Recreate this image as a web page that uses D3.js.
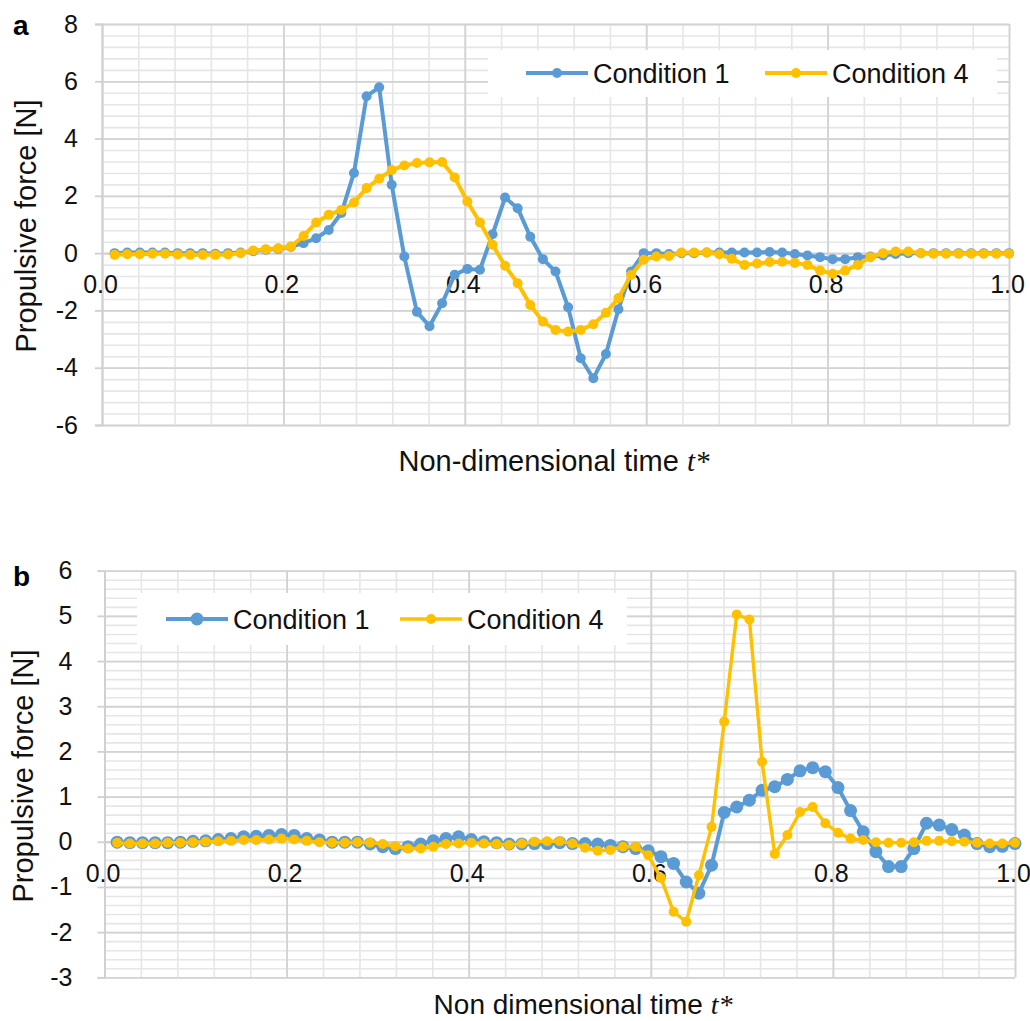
<!DOCTYPE html>
<html><head><meta charset="utf-8">
<script src="https://cdn.jsdelivr.net/npm/d3@7"></script>
<style>body{margin:0;background:#fff} svg{display:block}</style>
</head><body><svg id="c" width="1030" height="1021"></svg>
<script>
// Non-dimensional time samples (shared by both panels)
const T = [0.0139,0.0278,0.0417,0.0556,0.0694,0.0833,0.0972,0.1111,0.125,0.1389,
0.1528,0.1667,0.1806,0.1944,0.2083,0.2222,0.2361,0.25,0.2639,0.2778,
0.2917,0.3056,0.3194,0.3333,0.3472,0.3611,0.375,0.3889,0.4028,0.4167,
0.4306,0.4444,0.4583,0.4722,0.4861,0.5,0.5139,0.5278,0.5417,0.5556,
0.5694,0.5833,0.5972,0.6111,0.625,0.6389,0.6528,0.6667,0.6806,0.6944,
0.7083,0.7222,0.7361,0.75,0.7639,0.7778,0.7917,0.8056,0.8194,0.8333,
0.8472,0.8611,0.875,0.8889,0.9028,0.9167,0.9306,0.9444,0.9583,0.9722,
0.9861,1.0];

// Panel a
const aCond1 = [0.0,0.02,0.02,0.02,0.02,0.0,0.0,0.0,-0.02,0.0,
0.02,0.07,0.12,0.15,0.22,0.35,0.52,0.81,1.4,2.8,
5.48,5.79,2.39,-0.12,-2.05,-2.55,-1.75,-0.75,-0.55,-0.58,
0.66,1.94,1.57,0.57,-0.21,-0.64,-1.89,-3.67,-4.37,-3.52,
-1.96,-0.64,0.0,0.0,-0.03,0.0,0.0,0.02,0.02,0.02,
0.02,0.02,0.04,0.02,-0.03,-0.08,-0.14,-0.21,-0.21,-0.14,
-0.12,-0.08,-0.03,0.0,0.0,0.0,0.0,0.0,0.0,0.0,
0.0,0.0];
const aCond4 = [-0.06,-0.04,-0.04,-0.02,-0.02,-0.05,-0.06,-0.06,-0.06,-0.05,
0.0,0.09,0.14,0.17,0.23,0.6,1.07,1.34,1.51,1.77,
2.27,2.6,2.9,3.06,3.15,3.17,3.18,2.64,1.8,1.07,
0.29,-0.44,-1.05,-1.81,-2.39,-2.68,-2.74,-2.68,-2.48,-2.08,
-1.57,-0.76,-0.23,-0.12,-0.1,0.02,0.02,0.02,-0.04,-0.2,
-0.41,-0.36,-0.31,-0.3,-0.34,-0.41,-0.61,-0.72,-0.61,-0.41,
-0.14,0.0,0.06,0.06,0.0,-0.02,-0.02,-0.02,-0.02,-0.02,
-0.02,-0.02];

// Panel b
const bCond1 = [-0.01,-0.02,-0.02,-0.02,-0.02,-0.01,0.01,0.02,0.05,0.07,
0.11,0.12,0.14,0.16,0.14,0.07,0.04,-0.01,-0.01,-0.01,
-0.05,-0.11,-0.15,-0.11,-0.05,0.02,0.07,0.11,0.05,0.0,
-0.02,-0.05,-0.05,-0.04,-0.04,-0.02,-0.04,-0.04,-0.05,-0.08,
-0.11,-0.15,-0.2,-0.33,-0.48,-0.89,-1.14,-0.52,0.65,0.77,
0.92,1.14,1.22,1.38,1.57,1.64,1.55,1.2,0.69,0.22,
-0.22,-0.55,-0.55,-0.15,0.41,0.37,0.27,0.15,-0.04,-0.11,
-0.1,-0.04];
const bCond4 = [-0.02,-0.04,-0.04,-0.04,-0.02,-0.02,-0.01,0.0,0.01,0.02,
0.04,0.04,0.05,0.07,0.05,0.02,-0.01,-0.02,-0.02,-0.01,
-0.02,-0.05,-0.1,-0.15,-0.15,-0.11,-0.05,-0.04,-0.02,-0.04,
-0.05,-0.07,-0.04,0.0,0.01,0.01,-0.04,-0.13,-0.2,-0.18,
-0.11,-0.11,-0.3,-0.8,-1.55,-1.77,-0.74,0.33,2.66,5.03,
4.92,1.77,-0.27,0.15,0.66,0.77,0.41,0.2,0.07,0.04,
-0.01,-0.02,-0.02,-0.01,0.02,0.02,0.01,0.0,-0.02,-0.04,
-0.04,-0.02];

const seriesNames = ["Condition 1", "Condition 4"];
const xTicks = [0, 0.2, 0.4, 0.6, 0.8, 1.0];
const aYTicks = [-6, -4, -2, 0, 2, 4, 6, 8];
const bYTicks = [-3, -2, -1, 0, 1, 2, 3, 4, 5, 6];
const aXTitle = "Non-dimensional time ";
const bXTitle = "Non dimensional time ";
const yTitle = "Propulsive force [N]";
const panelLabels = ["a", "b"];

const BLUE = "#5B9BD5", GOLD = "#FFC000";
const FONT = "'Liberation Sans', Arial, Helvetica, sans-serif";
const svg = d3.select("#c");

function panel(cfg) {
  const x = d3.scaleLinear().domain([0, 1]).range(cfg.xr);
  const y = d3.scaleLinear().domain(cfg.yd).range(cfg.yr);
  const g = svg.append("g");
  const w = cfg.xr[1] - cfg.xr[0], h = cfg.yr[0] - cfg.yr[1];

  const xMinor = d3.range(0, 1.0001, 0.04);
  const yMinor = d3.range(cfg.yd[0], cfg.yd[1] + 1e-6, cfg.minor);

  // minor grid
  g.append("g").attr("transform", `translate(${cfg.xr[0]},0)`)
    .call(d3.axisLeft(y).tickValues(yMinor).tickSize(-w).tickFormat(""))
    .call(s => { s.select(".domain").remove(); s.selectAll("line").attr("stroke", "#e6e6e6").attr("stroke-width", 1.6); });
  g.append("g").attr("transform", `translate(0,${cfg.yr[0]})`)
    .call(d3.axisBottom(x).tickValues(xMinor).tickSize(-h).tickFormat(""))
    .call(s => { s.select(".domain").remove(); s.selectAll("line").attr("stroke", "#e6e6e6").attr("stroke-width", 1.6); });
  // major grid
  g.append("g").attr("transform", `translate(${cfg.xr[0]},0)`)
    .call(d3.axisLeft(y).tickValues(cfg.yTicks).tickSize(-w).tickFormat(""))
    .call(s => { s.select(".domain").remove(); s.selectAll("line").attr("stroke", "#d3d3d3").attr("stroke-width", 1.8); });
  g.append("g").attr("transform", `translate(0,${cfg.yr[0]})`)
    .call(d3.axisBottom(x).tickValues(xTicks).tickSize(-h).tickFormat(""))
    .call(s => { s.select(".domain").remove(); s.selectAll("line").attr("stroke", "#d3d3d3").attr("stroke-width", 1.8); });

  // y axis with ticks & labels (hyphen-minus as in the original)
  g.append("g").attr("transform", `translate(${cfg.xr[0]},0)`)
    .call(d3.axisLeft(y).tickValues(cfg.yTicks).tickSize(7).tickPadding(cfg.yPad).tickFormat(d => String(d)))
    .call(s => {
      s.select(".domain").attr("stroke", "#d0d0d0").attr("stroke-width", 1.8);
      s.selectAll("line").attr("stroke", "#d0d0d0").attr("stroke-width", 1.8);
      s.selectAll("text").attr("font-family", FONT).attr("font-size", 25).attr("fill", "#111");
    });
  // x axis at y=0 with labels
  g.append("g").attr("transform", `translate(0,${y(0)})`)
    .call(d3.axisBottom(x).tickValues(xTicks).tickSize(0).tickPadding(22).tickFormat(d => d.toFixed(1)))
    .call(s => {
      s.select(".domain").attr("stroke", "#d0d0d0").attr("stroke-width", 1.8);
      s.selectAll("text").attr("font-family", FONT).attr("font-size", 25).attr("fill", "#111").attr("dx", -2);
    });

  // legend box
  const L = cfg.legend;
  g.append("rect").attr("x", L.x).attr("y", L.y).attr("width", L.w).attr("height", L.h).attr("fill", "#fff");

  // series
  const line = d3.line().x((d, i) => x(T[i])).y(d => y(d));
  cfg.series.forEach((s, k) => {
    g.append("path").datum(s.values).attr("d", line).attr("fill", "none")
      .attr("stroke", s.color).attr("stroke-width", s.lw).attr("stroke-linejoin", "round");
    g.append("g").selectAll("circle").data(s.values).join("circle")
      .attr("cx", (d, i) => x(T[i])).attr("cy", d => y(d)).attr("r", s.r).attr("fill", s.color);
    // legend entry
    const e = L.entries[k];
    g.append("line").attr("x1", e.x1).attr("x2", e.x1 + 62).attr("y1", L.ly).attr("y2", L.ly)
      .attr("stroke", s.color).attr("stroke-width", s.lw);
    g.append("circle").attr("cx", e.x1 + 31).attr("cy", L.ly).attr("r", s.r).attr("fill", s.color);
    g.append("text").attr("x", e.x1 + 67).attr("y", L.ly + 10).attr("font-family", FONT)
      .attr("font-size", 27).attr("fill", "#111").text(seriesNames[k]);
  });

  // axis titles
  const xt = g.append("text").attr("x", cfg.xt[0]).attr("y", cfg.xt[1]).attr("text-anchor", "middle")
    .attr("font-family", FONT).attr("font-size", cfg.xfs).attr("fill", "#111");
  xt.append("tspan").text(cfg.xTitle);
  xt.append("tspan").attr("font-family", "'Liberation Serif', 'Times New Roman', serif").attr("font-style", "italic").text("t*");

  g.append("text").attr("transform", `translate(${cfg.yt[0]},${cfg.yt[1]}) rotate(-90)`)
    .attr("text-anchor", "middle").attr("font-family", FONT).attr("font-size", 29).attr("fill", "#111").text(yTitle);

  g.append("text").attr("x", cfg.lab[0]).attr("y", cfg.lab[1]).attr("font-family", FONT)
    .attr("font-weight", "bold").attr("font-size", 28).attr("fill", "#000").text(cfg.label);
}

panel({
  xr: [102, 1009], yd: [-6, 8], yr: [425, 24], minor: 0.4, yTicks: aYTicks, yPad: 17,
  xTitle: aXTitle, xt: [554, 471], xfs: 29, yt: [36, 226], lab: [13, 35], label: panelLabels[0],
  legend: { x: 488, y: 50, w: 509, h: 47, ly: 73, entries: [{ x1: 526 }, { x1: 765 }] },
  series: [
    { values: aCond1, color: BLUE, lw: 4, r: 5 },
    { values: aCond4, color: GOLD, lw: 4, r: 5 }
  ]
});
panel({
  xr: [104.5, 1015], yd: [-3, 6], yr: [977.3, 570.7], minor: 0.2, yTicks: bYTicks, yPad: 25,
  xTitle: bXTitle, xt: [583, 1014], xfs: 28, yt: [33, 776], lab: [13, 586], label: panelLabels[1],
  legend: { x: 137, y: 593, w: 490, h: 52, ly: 619, entries: [{ x1: 166 }, { x1: 400 }] },
  series: [
    { values: bCond1, color: BLUE, lw: 4, r: 6.5 },
    { values: bCond4, color: GOLD, lw: 3.4, r: 5 }
  ]
});
</script></body></html>
